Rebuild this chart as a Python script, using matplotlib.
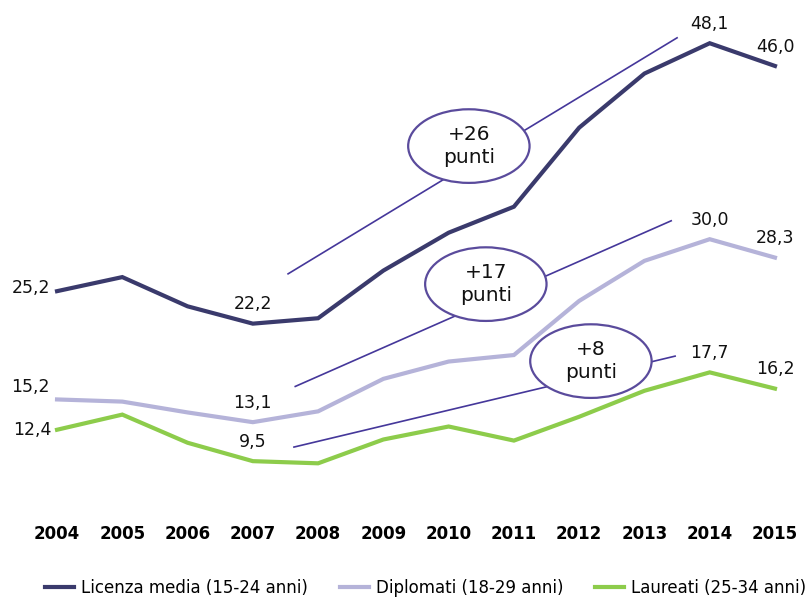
import matplotlib
matplotlib.use("Agg")
import matplotlib.pyplot as plt
from matplotlib.patches import Ellipse

years = [2004, 2005, 2006, 2007, 2008, 2009, 2010, 2011, 2012, 2013, 2014, 2015]
licenza = [25.2, 26.5, 23.8, 22.2, 22.7, 27.1, 30.6, 33.0, 40.3, 45.3, 48.1, 46.0]
diplomati = [15.2, 15.0, 14.0, 13.1, 14.1, 17.1, 18.7, 19.3, 24.3, 28.0, 30.0, 28.3]
laureati = [12.4, 13.8, 11.2, 9.5, 9.3, 11.5, 12.7, 11.4, 13.6, 16.0, 17.7, 16.2]
series_names = ["Licenza media (15-24 anni)", "Diplomati (18-29 anni)", "Laureati (25-34 anni)"]
colors = ["#3a3a6c", "#b5b3d9", "#8dcc4b"]

# labelled points: (year index)
labelled = [0, 3, 10, 11]

# trend annotations: ((x0, y0), (x1, y1)), ellipse centre, text
trend_lines = [((2007.54, 26.8), (2013.50, 48.6)),
               ((2007.65, 16.4), (2013.41, 31.7)),
               ((2007.63, 10.8), (2013.47, 19.2))]
trend_centres = [(2010.31, 38.6), (2010.57, 25.85), (2012.18, 18.74)]
trend_texts = ["+26\npunti", "+17\npunti", "+8\npunti"]

def fmt(v):
    return f"{v:.1f}".replace(".", ",")

fig = plt.figure(figsize=(8.11, 5.99), dpi=100)
ax = fig.add_axes([24.4 / 811, 1 - 520.7 / 599, (807.6 - 24.4) / 811, (520.7 - 1) / 599])
ax.set_xlim(2003.5, 2015.5)
ax.set_ylim(4, 52)

data = [licenza, diplomati, laureati]
handles = []
for vals, c, name in zip(data, colors, series_names):
    h, = ax.plot(years, vals, color=c, lw=3.0, solid_joinstyle="miter", label=name, zorder=3)
    handles.append(h)

# value labels
left_offsets = [(-5, 2), (-5, 9), (-4, 0)]
for si, vals in enumerate(data):
    dx, dy = left_offsets[si]
    ax.annotate(fmt(vals[0]), (years[0], vals[0]), xytext=(dx, dy), textcoords="offset points",
                ha="right", va="center", fontsize=12.5, color="#111111")
    for yi in labelled[1:]:
        ax.annotate(fmt(vals[yi]), (years[yi], vals[yi]), xytext=(0, 14), textcoords="offset points",
                    ha="center", va="center", fontsize=12.5, color="#111111")

line_col = "#45379a"
for (p0, p1), cen, txt in zip(trend_lines, trend_centres, trend_texts):
    ax.plot([p0[0], p1[0]], [p0[1], p1[1]], color=line_col, lw=1.2, zorder=2)
    e = Ellipse(cen, width=1.86, height=6.8, facecolor="white", edgecolor="#5a4b9c", lw=1.6, zorder=4)
    ax.add_patch(e)
    ax.text(cen[0], cen[1], txt, ha="center", va="center", fontsize=14.5, linespacing=1.3,
            color="#111111", zorder=5)

for s in ax.spines.values():
    s.set_visible(False)
ax.set_yticks([])
ax.set_xticks(years)
ax.set_xticklabels([str(y) for y in years], fontsize=12, fontweight="bold")
ax.tick_params(axis="x", length=0, pad=3)

fig.legend(handles=handles, loc="center", bbox_to_anchor=(425.5 / 811, 1 - 588 / 599), ncol=3,
           frameon=False, fontsize=12, handlelength=1.74, handletextpad=0.42, columnspacing=1.92,
           borderaxespad=0, borderpad=0)

fig.savefig("out.png", dpi=100)
